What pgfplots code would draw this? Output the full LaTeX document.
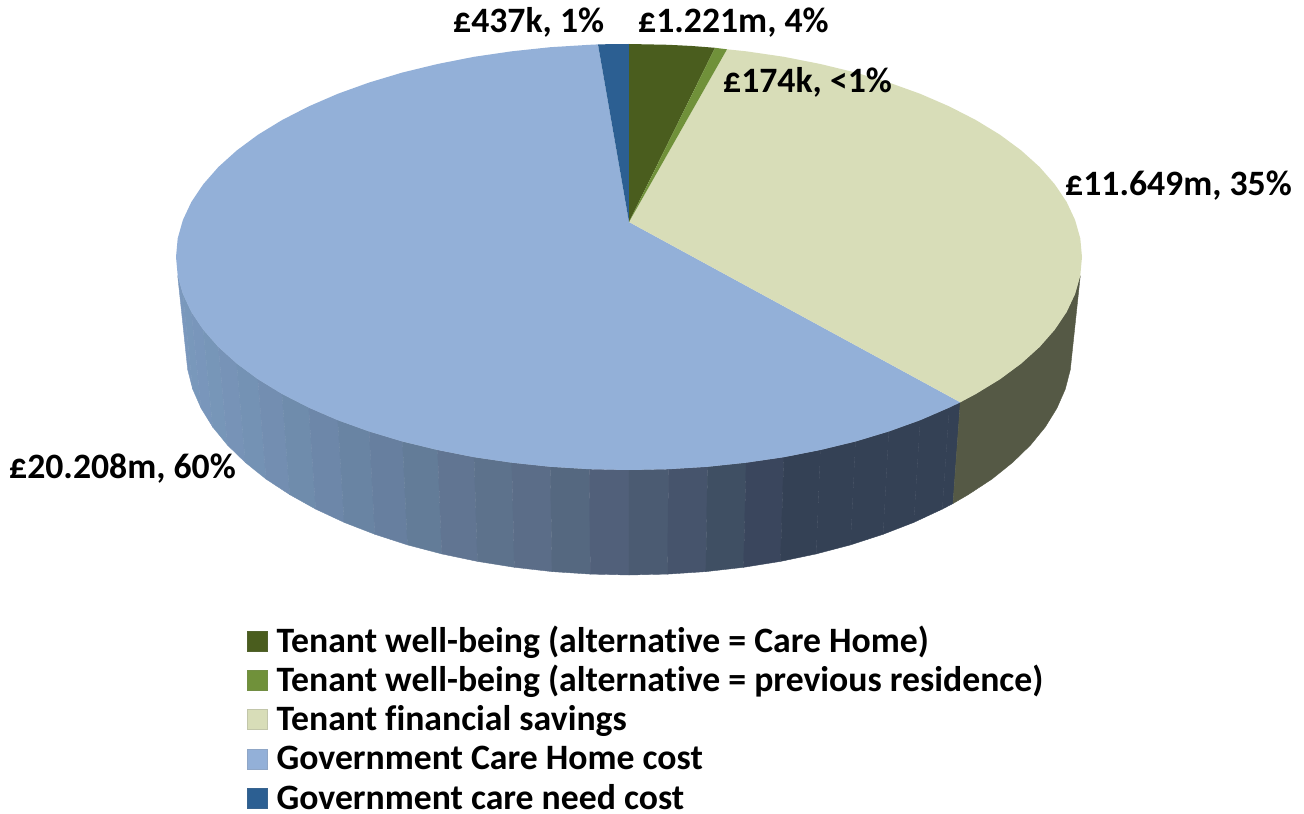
\documentclass[border=0pt]{standalone}
\usepackage{fontspec}
\setmainfont[Ligatures=NoCommon]{Carlito}
\usepackage{pgfplots}
\pgfplotsset{compat=1.18}
\newcommand\strip[4]{\addplot[forget plot,draw={rgb,255:red,#1;green,#2;blue,#3},line width=0.4bp,fill={rgb,255:red,#1;green,#2;blue,#3}] coordinates {#4} -- cycle;}
\definecolor{cDark}{HTML}{4A5D1E}
\definecolor{cLight}{HTML}{70913A}
\definecolor{cPale}{HTML}{D8DDB8}
\definecolor{cBlue}{HTML}{93B0D8}
\definecolor{cNavy}{HTML}{2C5F92}
\definecolor{cPaleSide}{HTML}{555945}
\newcommand\lab{\fontsize{35.7bp}{40bp}\selectfont\bfseries}
\begin{document}
\begin{tikzpicture}
\useasboundingbox (0,0) rectangle (1304bp,814bp);
\begin{axis}[
  scale only axis, width=1304bp, height=814bp,
  xmin=0, xmax=1304, ymin=0, ymax=814, y dir=reverse,
  hide axis, clip=false,
  legend image code/.code={\draw[#1,line width=0.6bp] (0bp,-10bp) rectangle (20bp,10bp);},
  legend cell align=left,
  legend style={at={(axis cs:247,626)},anchor=north west,draw=none,fill=none,inner sep=0pt,outer sep=0pt,
    row sep=9.3bp,column sep=0bp,font=\lab,
    nodes={inner xsep=0pt,inner ysep=0pt,text height=26bp,text depth=4bp}},
]
\addlegendimage{draw=cDark!85!gray,fill=cDark}
\addlegendentry{\hspace{9bp}Tenant well-being (alternative = Care Home)}
\addlegendimage{draw=cLight!85!gray,fill=cLight}
\addlegendentry{\hspace{9bp}Tenant well-being (alternative = previous residence)}
\addlegendimage{draw=cPale!75!gray,fill=cPale}
\addlegendentry{\hspace{9bp}Tenant financial savings}
\addlegendimage{draw=cBlue!80!gray,fill=cBlue}
\addlegendentry{\hspace{9bp}Government Care Home cost}
\addlegendimage{draw=cNavy!85!gray,fill=cNavy}
\addlegendentry{\hspace{9bp}Government care need cost}
% side wall, Government Care Home cost
\strip{123}{152}{189}{(177.7,275.6)(182.9,294.0)(192.7,389.1)(187.7,369.6)}
\strip{121}{152}{187}{(182.9,294.0)(191.4,312.1)(201.1,408.2)(192.7,389.1)}
\strip{121}{150}{187}{(191.4,312.1)(203.3,329.8)(212.7,427.0)(201.1,408.2)}
\strip{119}{150}{184}{(203.3,329.8)(218.4,347.0)(227.5,445.1)(212.7,427.0)}
\strip{119}{147}{183}{(218.4,347.0)(236.7,363.5)(245.4,462.5)(227.5,445.1)}
\strip{116}{146}{180}{(236.7,363.5)(257.9,379.2)(266.1,479.1)(245.4,462.5)}
\strip{115}{142}{177}{(257.9,379.2)(282.0,393.9)(289.7,494.6)(266.1,479.1)}
\strip{111}{140}{172}{(282.0,393.9)(308.7,407.6)(315.7,509.1)(289.7,494.6)}
\strip{109}{135}{169}{(308.7,407.6)(337.8,420.2)(344.2,522.4)(315.7,509.1)}
\strip{105}{132}{163}{(337.8,420.2)(369.2,431.5)(374.9,534.3)(344.2,522.4)}
\strip{103}{127}{159}{(369.2,431.5)(402.5,441.5)(407.5,544.9)(374.9,534.3)}
\strip{99}{124}{152}{(402.5,441.5)(437.6,450.0)(441.8,553.9)(407.5,544.9)}
\strip{97}{117}{146}{(437.6,450.0)(474.1,457.2)(477.5,561.4)(441.8,553.9)}
\strip{93}{114}{140}{(474.1,457.2)(511.8,462.7)(514.4,567.3)(477.5,561.4)}
\strip{91}{109}{136}{(511.8,462.7)(550.4,466.8)(552.1,571.6)(514.4,567.3)}
\strip{85}{104}{128}{(550.4,466.8)(589.5,469.2)(590.4,574.1)(552.1,571.6)}
\strip{81}{96}{122}{(589.5,469.2)(629,470)(629,575)(590.4,574.1)}
\strip{75}{91}{114}{(629,470)(668.5,469.2)(667.6,574.1)(629,575)}
\strip{70}{84}{108}{(668.5,469.2)(707.6,466.8)(705.9,571.6)(667.6,574.1)}
\strip{63}{79}{99}{(707.6,466.8)(746.2,462.7)(743.6,567.3)(705.9,571.6)}
\strip{58}{70}{93}{(746.2,462.7)(783.9,457.2)(780.5,561.4)(743.6,567.3)}
\strip{52}{65}{85}{(783.9,457.2)(820.4,450.0)(816.2,553.9)(780.5,561.4)}
\strip{52}{65}{85}{(820.4,450.0)(855.5,441.5)(850.5,544.9)(816.2,553.9)}
\strip{52}{65}{85}{(855.5,441.5)(888.8,431.5)(883.1,534.3)(850.5,544.9)}
\strip{52}{65}{85}{(888.8,431.5)(920.2,420.2)(913.8,522.4)(883.1,534.3)}
\strip{52}{65}{85}{(920.2,420.2)(949.3,407.6)(942.3,509.1)(913.8,522.4)}
\strip{52}{65}{85}{(949.3,407.6)(960.3,402.3)(953.0,503.5)(942.3,509.1)}
% side wall, Tenant financial savings
\addplot[forget plot,draw=cPaleSide,fill=cPaleSide] coordinates {(960.3,402.3)(976,393.9)(1000.1,379.2)(1021.3,363.5)(1039.6,347.0)(1054.7,329.8)(1066.6,312.1)(1075.1,294.0)(1080.3,275.6)(1070.3,369.6)(1065.3,389.1)(1056.9,408.2)(1045.3,427.0)(1030.5,445.1)(1012.6,462.5)(991.9,479.1)(968.3,494.6)(953.0,503.5)} -- cycle;
% top face, Government Care Home cost
\addplot[forget plot,draw=none,fill=cBlue] coordinates {(629,222)(960.3,402.3)(949.3,407.6)(920.2,420.2)(888.8,431.5)(855.5,441.5)(820.4,450.0)(783.9,457.2)(746.2,462.7)(707.6,466.8)(668.5,469.2)(629,470)(589.5,469.2)(550.4,466.8)(511.8,462.7)(474.1,457.2)(437.6,450.0)(402.5,441.5)(369.2,431.5)(337.8,420.2)(308.7,407.6)(282.0,393.9)(257.9,379.2)(236.7,363.5)(218.4,347.0)(203.3,329.8)(191.4,312.1)(182.9,294.0)(177.7,275.6)(176,257)(177.7,238.4)(182.9,220)(191.4,201.9)(203.3,184.2)(218.4,167)(236.7,150.5)(257.9,134.8)(282,120.1)(308.7,106.4)(337.8,93.8)(369.2,82.5)(402.5,72.5)(437.6,64)(474.1,56.8)(511.8,51.3)(550.4,47.2)(589.5,44.8)(598,44.4)} -- cycle;
% top face, Tenant financial savings
\addplot[forget plot,draw=none,fill=cPale] coordinates {(629,222)(727,49.3)(746.2,51.3)(783.9,56.8)(820.4,64)(855.5,72.5)(888.8,82.5)(920.2,93.8)(949.3,106.4)(976,120.1)(1000.1,134.8)(1021.3,150.5)(1039.6,167)(1054.7,184.2)(1066.6,201.9)(1075.1,220)(1080.3,238.4)(1082,257)(1080.3,275.6)(1075.1,294.0)(1066.6,312.1)(1054.7,329.8)(1039.6,347.0)(1021.3,363.5)(1000.1,379.2)(976,393.9)(960.3,402.3)} -- cycle;
% top face, small slices
\addplot[forget plot,draw=none,fill=cNavy] coordinates {(629,222)(598,44.4)(613,44.1)(629,44)} -- cycle;
\addplot[forget plot,draw=none,fill=cDark] coordinates {(629,222)(629,44)(668.5,44.8)(692,46)(715,47.8)} -- cycle;
\addplot[forget plot,draw=none,fill=cLight] coordinates {(629,222)(715,47.8)(727,49.3)} -- cycle;
% data labels
\node[anchor=base west,inner sep=0pt,font=\lab] at (axis cs:453,33) {£437k, 1\%};
\node[anchor=base west,inner sep=0pt,font=\lab] at (axis cs:638,33) {£1.221m, 4\%};
\node[anchor=base west,inner sep=0pt,font=\lab] at (axis cs:723,93) {£174k, <1\%};
\node[anchor=base west,inner sep=0pt,font=\lab] at (axis cs:1065,195) {£11.649m, 35\%};
\node[anchor=base west,inner sep=0pt,font=\lab] at (axis cs:9,478) {£20.208m, 60\%};
\end{axis}
\end{tikzpicture}
\end{document}
